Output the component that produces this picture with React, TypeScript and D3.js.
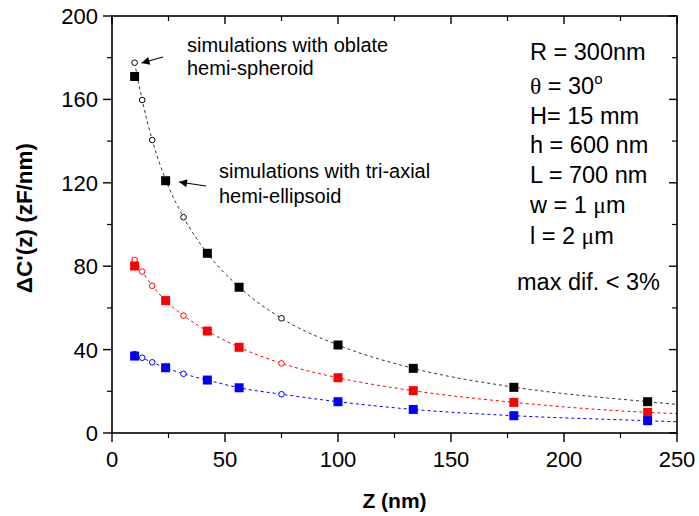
import React from "react";
import * as d3 from "d3";

// ---------- data ----------
const squareZ = [10, 23.73, 42.19, 56.25, 100, 133.3, 177.8, 237];
const squareBlack = [171, 121, 86.2, 69.9, 42.2, 31.0, 21.9, 15.0];
const squareRed = [80.1, 63.5, 48.9, 41.1, 26.5, 20.3, 14.7, 9.9];
const squareBlue = [36.9, 31.3, 25.4, 21.7, 15.0, 11.3, 8.3, 5.9];

const circleZ = [10, 13.35, 17.8, 31.64, 75];
const circleBlack = [177.6, 159.7, 140.5, 103.5, 55.0];
const circleRed = [83.0, 77.4, 70.6, 56.3, 33.4];
const circleBlue = [37.9, 36.1, 33.9, 28.4, 18.6];

const lineZ = [10, 13.35, 17.8, 23.73, 31.64, 42.19, 56.25, 75, 100, 133.3, 177.8, 237, 250];
const lineBlack = [177.6, 159.7, 140.5, 121.5, 103.5, 86.2, 70, 55, 42.2, 31, 22, 15, 13.7];
const lineRed = [83.0, 77.4, 70.6, 63.5, 56.3, 48.9, 41.1, 33.4, 26.5, 20.3, 14.7, 9.9, 9.3];
const lineBlue = [37.9, 36.1, 33.9, 31.3, 28.4, 25.4, 21.7, 18.6, 15.0, 11.3, 8.3, 5.9, 5.4];

const xTicks = [0, 50, 100, 150, 200, 250];
const xMinor = [25, 75, 125, 175, 225];
const yTicks = [0, 40, 80, 120, 160, 200];
const yMinor = [20, 60, 100, 140, 180];

const W = 699;
const H = 516;
const FONT = "'Liberation Sans', Arial, sans-serif";
const SERIF = "'Liberation Serif', 'Times New Roman', serif";

export default function App() {
  const x = d3.scaleLinear().domain([0, 250]).range([112, 677]);
  const y = d3.scaleLinear().domain([0, 200]).range([433, 16]);

  const line = d3
    .line<[number, number]>()
    .x((d) => x(d[0]))
    .y((d) => y(d[1]))
    .curve(d3.curveMonotoneX);

  const series = [
    { color: "#000000", lineColor: "#333333", sq: squareBlack, ci: circleBlack, ln: lineBlack },
    { color: "#ff0000", lineColor: "#ff0000", sq: squareRed, ci: circleRed, ln: lineRed },
    { color: "#0000ff", lineColor: "#0000ff", sq: squareBlue, ci: circleBlue, ln: lineBlue },
  ];

  const sqSize = 9;
  const [x0, x1] = x.range();
  const [y0, y1] = y.range();

  const rightLines: { y: number; content: React.ReactNode; x?: number }[] = [
    { y: 60, content: "R = 300nm" },
    {
      y: 94,
      content: (
        <>
          <tspan fontFamily={SERIF}>θ</tspan>
          <tspan> = 30</tspan>
          <tspan fontSize={15} dy={-10}>o</tspan>
        </>
      ),
    },
    { y: 124, content: "H= 15 mm" },
    { y: 153, content: "h = 600 nm" },
    { y: 183, content: "L = 700 nm" },
    {
      y: 213,
      content: (
        <>
          <tspan>w = 1 </tspan>
          <tspan fontFamily={SERIF}>μ</tspan>
          <tspan>m</tspan>
        </>
      ),
    },
    {
      y: 244,
      content: (
        <>
          <tspan>l = 2 </tspan>
          <tspan fontFamily={SERIF}>μ</tspan>
          <tspan>m</tspan>
        </>
      ),
    },
    { y: 290, x: 517, content: "max dif. < 3%" },
  ];

  return (
    <svg
      width={W}
      height={H}
      style={{ position: "absolute", left: 0, top: 0, background: "#fff" }}
      fontFamily={FONT}
    >
      <defs>
        <marker
          id="arrow"
          viewBox="0 0 10 10"
          refX="10"
          refY="5"
          markerWidth="12"
          markerHeight="8"
          markerUnits="userSpaceOnUse"
          orient="auto"
        >
          <path d="M0,0 L10,5 L0,10 Z" fill="#000" />
        </marker>
      </defs>
      <rect x={0} y={0} width={W} height={H} fill="#fff" />

      {/* dashed lines */}
      {series.map((s, i) => (
        <path
          key={"l" + i}
          d={line(lineZ.map((z, k) => [z, s.ln[k]]) as [number, number][]) || ""}
          fill="none"
          stroke={s.lineColor}
          strokeWidth={1}
          strokeDasharray="3,3"
        />
      ))}

      {/* circles */}
      {series.map((s, i) =>
        circleZ.map((z, k) => (
          <circle
            key={"c" + i + "-" + k}
            cx={x(z)}
            cy={y(s.ci[k])}
            r={2.8}
            fill="#fff"
            stroke={s.color}
            strokeWidth={1}
          />
        ))
      )}

      {/* squares */}
      {series.map((s, i) =>
        squareZ.map((z, k) => (
          <rect
            key={"s" + i + "-" + k}
            x={x(z) - sqSize / 2}
            y={y(s.sq[k]) - sqSize / 2}
            width={sqSize}
            height={sqSize}
            fill={s.color}
          />
        ))
      )}

      {/* frame */}
      <rect x={x0} y={y1} width={x1 - x0} height={y0 - y1} fill="none" stroke="#000" strokeWidth={1.6} />

      {/* bottom ticks */}
      {xTicks.map((t) => (
        <g key={"xt" + t}>
          <line x1={x(t)} x2={x(t)} y1={y0} y2={y0 + 9} stroke="#000" strokeWidth={1.4} />
          <line x1={x(t)} x2={x(t)} y1={y1} y2={y1 + 8} stroke="#000" strokeWidth={1.4} />
          <text x={x(t)} y={467} textAnchor="middle" fontSize={22}>
            {t}
          </text>
        </g>
      ))}
      {xMinor.map((t) => (
        <g key={"xm" + t}>
          <line x1={x(t)} x2={x(t)} y1={y0} y2={y0 + 5} stroke="#000" strokeWidth={1.2} />
          <line x1={x(t)} x2={x(t)} y1={y1} y2={y1 + 5} stroke="#000" strokeWidth={1.2} />
        </g>
      ))}

      {/* left ticks */}
      {yTicks.map((t) => (
        <g key={"yt" + t}>
          <line x1={x0 - 9} x2={x0} y1={y(t)} y2={y(t)} stroke="#000" strokeWidth={1.4} />
          <line x1={x1 - 8} x2={x1} y1={y(t)} y2={y(t)} stroke="#000" strokeWidth={1.4} />
          <text x={98} y={y(t) + 8} textAnchor="end" fontSize={22}>
            {t}
          </text>
        </g>
      ))}
      {yMinor.map((t) => (
        <g key={"ym" + t}>
          <line x1={x0 - 5} x2={x0} y1={y(t)} y2={y(t)} stroke="#000" strokeWidth={1.2} />
          <line x1={x1 - 5} x2={x1} y1={y(t)} y2={y(t)} stroke="#000" strokeWidth={1.2} />
        </g>
      ))}

      {/* axis titles */}
      <text x={394.5} y={508} textAnchor="middle" fontSize={21} fontWeight="bold">
        Z (nm)
      </text>
      <text
        transform="translate(32,218) rotate(-90)"
        textAnchor="middle"
        fontSize={22.5}
        fontWeight="bold"
      >
        ΔC'(z) (zF/nm)
      </text>

      {/* annotations */}
      <text x={187} y={52} fontSize={20}>simulations with oblate</text>
      <text x={187} y={75} fontSize={20}>hemi-spheroid</text>
      <line x1={163} y1={57} x2={141.5} y2={63} stroke="#000" strokeWidth={1.2} markerEnd="url(#arrow)" />

      <text x={219} y={178} fontSize={20}>simulations with tri-axial</text>
      <text x={219} y={203} fontSize={20}>hemi-ellipsoid</text>
      <line x1={206} y1={186} x2={179} y2={182} stroke="#000" strokeWidth={1.2} markerEnd="url(#arrow)" />

      {/* parameters */}
      {rightLines.map((r, i) => (
        <text key={"r" + i} x={r.x ?? 530} y={r.y} fontSize={23.5}>
          {r.content}
        </text>
      ))}
    </svg>
  );
}
